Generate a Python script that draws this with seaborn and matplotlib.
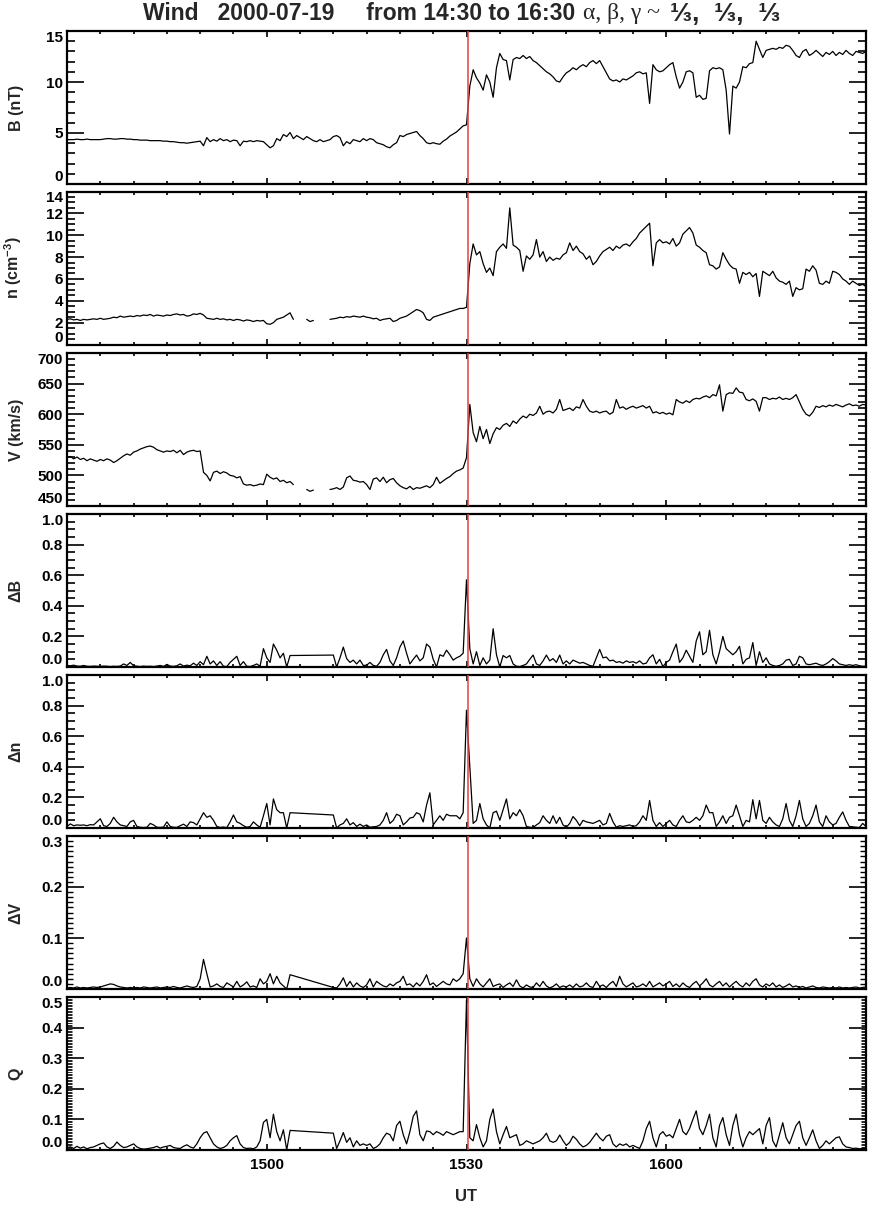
import numpy as np
import matplotlib
matplotlib.use("Agg")
import matplotlib.pyplot as plt
import seaborn as sns
from matplotlib.ticker import FixedLocator, MultipleLocator

nan = np.nan

# minutes after 14:30 UT, one sample every 30 s (14:30 -> 16:30)
minutes = np.arange(241) * 0.5
shock_minute = 60.2
tick_minutes = [30, 60, 90]
tick_labels = ["1500", "1530", "1600"]

# |B| (nT)
b_field = [
    4.35, 4.35, 4.35, 4.4, 4.35, 4.35, 4.4, 4.35, 4.35, 4.35,
    4.35, 4.4, 4.45, 4.45, 4.4, 4.4, 4.45, 4.45, 4.4, 4.4,
    4.35, 4.35, 4.3, 4.3, 4.3, 4.25, 4.25, 4.25, 4.25, 4.2,
    4.2, 4.15, 4.15, 4.1, 4.05, 4.05, 4.0, 4.05, 4.1, 4.15,
    4.2, 3.75, 4.55, 4.15, 4.35, 4.2, 4.45, 4.25, 4.35, 4.15,
    4.3, 4.25, 3.75, 4.2, 4.15, 4.25, 4.15, 4.25, 4.2, 4.15,
    3.85, 3.55, 3.75, 4.45, 4.25, 4.85, 4.65, 5.05, 4.45, 4.75,
    4.55, 4.35, 4.65, 4.45, 4.25, 4.15, 4.35, 4.15, 4.25, 4.35,
    4.65, 4.75, 4.55, 3.75, 4.15, 3.95, 4.35, 4.25, 4.15, 4.45,
    4.25, 4.45, 4.35, 4.05, 3.95, 3.85, 3.65, 3.55, 3.85, 4.05,
    4.75, 4.65, 4.85, 4.95, 5.05, 5.15, 4.75, 4.45, 4.05, 3.95,
    4.05, 3.95, 3.9, 4.2, 4.4, 4.7, 4.9, 5.1, 5.4, 5.7,
    5.8, 9.6, 11.2, 10.4, 9.9, 9.2, 10.7, 10.0, 8.5, 11.4,
    12.8, 12.2, 12.1, 10.2, 12.2, 12.4, 12.3, 12.6, 12.3, 12.5,
    12.1, 11.9, 11.6, 11.3, 11.0, 10.8, 10.5, 10.1, 10.0, 10.5,
    10.9, 11.1, 11.4, 11.2, 11.5, 11.7, 11.5, 11.9, 12.1, 11.8,
    12.1, 11.5, 10.9, 10.3, 10.1, 10.2, 10.0, 10.3, 10.2, 10.4,
    10.6, 10.9, 11.0, 10.8, 10.9, 7.9, 11.7, 11.2, 11.0, 11.1,
    11.4, 11.7, 11.9, 10.5, 9.4, 10.0, 11.0, 11.1, 10.9, 8.5,
    8.7, 8.3, 8.4, 11.1, 11.4, 11.3, 11.4, 11.2, 9.2, 4.9,
    9.6, 9.4, 10.0, 11.5, 11.4, 11.8, 11.9, 14.0, 13.2, 12.4,
    13.1, 13.2, 13.3, 13.2, 13.4, 13.3, 13.6, 13.5, 13.1, 12.6,
    12.4, 13.0, 13.2, 12.6, 12.8, 13.1, 12.8, 12.5, 12.9, 12.7,
    13.0, 12.6, 12.9, 12.7, 13.1, 12.8, 12.6, 13.0, 12.9, 12.8,
    13.0,
]

# proton density (cm^-3), nan = no data
density = [
    2.3, 2.35, 2.25, 2.3, 2.2, 2.3, 2.25, 2.3, 2.35, 2.3,
    2.4, 2.3, 2.35, 2.4, 2.5, 2.45, 2.6, 2.5, 2.55, 2.6,
    2.55, 2.65, 2.6, 2.7, 2.65, 2.75, 2.6, 2.7, 2.65, 2.6,
    2.7, 2.65, 2.75, 2.8, 2.7, 2.75, 2.6, 2.65, 2.8, 2.75,
    2.85, 2.7, 2.4, 2.35, 2.3, 2.4, 2.3, 2.35, 2.25, 2.3,
    2.2, 2.3, 2.25, 2.15, 2.25, 2.2, 2.1, 2.2, 2.15, 2.2,
    1.9, 1.85, 2.0, 2.3, 2.4, 2.5, 2.7, 2.9, 2.3, nan,
    nan, nan, 2.3, 2.1, 2.2, nan, nan, nan, nan, 2.3,
    2.35, 2.4, 2.5, 2.45, 2.55, 2.5, 2.6, 2.55, 2.5, 2.6,
    2.5, 2.45, 2.35, 2.4, 2.2, 2.3, 2.35, 2.4, 2.1, 2.2,
    2.4, 2.5, 2.6, 2.8, 3.0, 3.2, 3.1, 2.9, 2.3, 2.2,
    2.5, 2.6, 2.7, 2.8, 2.9, 3.0, 3.1, 3.2, 3.3, 3.3,
    3.4, 7.4, 9.2, 8.2, 8.5, 7.4, 6.6, 7.0, 6.3, 8.5,
    8.9, 9.2, 8.8, 12.5, 9.1, 8.9, 8.6, 6.7, 8.1, 7.8,
    8.2, 9.6, 8.0, 8.5, 7.6, 8.0, 7.7, 7.9, 7.8, 8.2,
    8.4, 9.3, 8.6, 9.0, 8.5, 8.3, 7.8, 8.1, 7.3, 7.6,
    8.1, 8.5, 8.7, 8.9, 8.6, 9.0, 8.8, 9.1, 9.2, 9.0,
    9.4, 9.7, 10.2, 10.5, 10.8, 11.1, 7.2, 9.3, 9.6, 9.3,
    9.4, 9.2, 9.7, 9.0, 9.3, 10.1, 10.4, 10.7, 10.2, 9.1,
    8.9, 8.6, 8.4, 7.3, 7.2, 6.9, 7.1, 8.4, 7.8, 7.3,
    7.0, 6.9, 5.6, 6.6, 6.4, 6.6, 6.2, 6.5, 4.4, 6.7,
    6.5, 6.3, 6.7, 6.1, 5.8, 5.7, 5.5, 5.8, 4.4, 5.2,
    5.0, 5.1, 6.9, 6.7, 7.2, 6.8, 5.6, 5.5, 5.8, 5.6,
    6.7, 6.6, 6.4, 6.0, 5.8, 5.5, 5.8, 5.6, 5.4, 5.5,
    5.3,
]

# bulk speed (km/s), nan = no data
speed = [
    529, 531, 527, 530, 526, 528, 524, 527, 525, 523,
    526, 524, 527, 525, 521, 524, 528, 532, 535, 533,
    538, 540, 543, 545, 547, 548, 546, 542, 540, 538,
    540, 539, 541, 537, 541, 534, 538, 540, 541, 539,
    540, 505, 500, 491, 505, 507, 503, 506, 504, 500,
    499, 496, 498, 486, 484, 485, 483, 484, 486, 485,
    502, 497, 494, 496, 490, 492, 488, 490, 485, nan,
    nan, nan, 477, 474, 476, nan, nan, nan, nan, 477,
    478, 480, 477, 481, 496, 499, 492, 491, 489, 490,
    485, 477, 494, 496, 490, 497, 488, 493, 495, 488,
    483, 480, 478, 482, 477, 480, 479, 481, 483, 480,
    485, 497, 487, 491, 495, 498, 503, 507, 509, 512,
    529, 616, 570, 555, 580, 560, 575, 552, 568, 578,
    575, 582, 585, 580, 589, 585, 592, 597, 594, 600,
    598, 602, 613, 600, 604, 605, 602, 608, 624, 606,
    608, 610, 606, 612, 610, 624, 613, 605, 603, 605,
    602, 604, 605, 600, 603, 624, 610, 612, 608, 611,
    613, 610, 612, 614, 610, 613, 602, 604, 601, 603,
    600, 602, 599, 624, 620, 618, 622, 619, 624, 626,
    625, 628, 630, 627, 632, 630, 648, 605, 632, 635,
    634, 643, 636, 635, 624, 622, 625, 621, 605, 627,
    627, 624, 626, 625, 628, 624, 626, 624, 627, 632,
    620, 608, 600, 597, 603, 613, 611, 614, 612, 615,
    613, 616, 614, 612, 615, 617, 614, 615, 613, 616,
    615,
]

# normalised jumps; nan = not computed (the curve is joined across)
delta_b = [
    0.01, 0.008, 0.012, 0.006, 0.005, 0.01, 0.005, 0.004, 0.006, 0.005,
    0.004, 0.006, 0.005, 0.003, 0.005, 0.004, 0.006, 0.02, 0.01, 0.03,
    0.008, 0.005, 0.003, 0.006, 0.004, 0.005, 0.003, 0.006, 0.01, 0.004,
    0.017, 0.006, 0.004, 0.008, 0.02, 0.006, 0.012, 0.008, 0.025, 0.01,
    0.035, 0.015, 0.07, 0.02, 0.04, 0.01, 0.035, 0.005, 0.003, 0.03,
    0.05, 0.07, 0.01, 0.035, 0.005, 0.003, 0.01, 0.02, 0.005, 0.12,
    0.06, 0.03, 0.15, 0.11, 0.06, 0.09, 0.0, 0.075, nan, nan,
    nan, nan, nan, nan, nan, nan, nan, nan, nan, nan,
    0.078, 0.0, 0.06, 0.13, 0.055, 0.03, 0.045, 0.02, 0.045, 0.01,
    0.012, 0.03, 0.01, 0.005, 0.03, 0.08, 0.115, 0.04, 0.01, 0.06,
    0.13, 0.17, 0.09, 0.02, 0.05, 0.078, 0.04, 0.06, 0.15, 0.13,
    0.05, 0.0, 0.08, 0.07, 0.11, 0.08, 0.045, 0.06, 0.07, 0.09,
    0.57, 0.12, 0.02, 0.1, 0.01, 0.06, 0.02, 0.045, 0.25, 0.08,
    0.0, 0.075, 0.06, 0.075, 0.02, 0.005, 0.003, 0.01, 0.02, 0.05,
    0.078, 0.02, 0.01, 0.04, 0.078, 0.04, 0.055, 0.03, 0.078, 0.02,
    0.04, 0.02, 0.045, 0.035, 0.025, 0.03, 0.02, 0.01, 0.005, 0.06,
    0.115, 0.06, 0.065, 0.04, 0.045, 0.03, 0.035, 0.025, 0.04, 0.03,
    0.035, 0.025, 0.04, 0.02, 0.025, 0.06, 0.08, 0.02, 0.05, 0.003,
    0.03, 0.045, 0.1, 0.15, 0.03, 0.06, 0.11, 0.07, 0.03, 0.17,
    0.23, 0.08, 0.1, 0.24, 0.08, 0.02, 0.1, 0.2, 0.12, 0.1,
    0.08, 0.1, 0.135, 0.02, 0.05, 0.06, 0.16, 0.01, 0.1, 0.03,
    0.06, 0.02, 0.01, 0.005, 0.01, 0.02, 0.045, 0.05, 0.01, 0.02,
    0.07, 0.06, 0.02, 0.015, 0.02, 0.025, 0.015, 0.01, 0.02, 0.035,
    0.055, 0.04, 0.02, 0.015, 0.01, 0.015, 0.01, 0.015, 0.008, 0.005,
    0.006,
]

delta_n = [
    0.01, 0.027, 0.015, 0.02, 0.018, 0.02, 0.015, 0.022, 0.02, 0.04,
    0.06, 0.015, 0.01, 0.03, 0.07, 0.04, 0.02, 0.015, 0.01, 0.04,
    0.05, 0.01, 0.005, 0.003, 0.005, 0.03, 0.02, 0.005, 0.004, 0.006,
    0.04, 0.01, 0.005, 0.004, 0.015, 0.025, 0.01, 0.04, 0.035, 0.02,
    0.06, 0.1, 0.07, 0.08, 0.05, 0.01, 0.004, 0.006, 0.003, 0.04,
    0.085, 0.04, 0.03, 0.015, 0.005, 0.01, 0.04, 0.02, 0.005, 0.08,
    0.16, 0.02, 0.19, 0.12, 0.1, 0.1, 0.0, 0.1, nan, nan,
    nan, nan, nan, nan, nan, nan, nan, nan, nan, nan,
    0.085, 0.0, 0.02, 0.03, 0.06, 0.02, 0.035, 0.01, 0.025, 0.01,
    0.02, 0.005, 0.008, 0.01, 0.02, 0.05, 0.1, 0.03, 0.05, 0.09,
    0.08, 0.02, 0.04, 0.065, 0.07, 0.1, 0.09, 0.04, 0.15, 0.23,
    0.02, 0.05, 0.08, 0.05, 0.09, 0.08, 0.08, 0.08, 0.06, 0.1,
    0.77, 0.4, 0.03, 0.05, 0.16, 0.06, 0.02, 0.0, 0.1, 0.11,
    0.05, 0.12, 0.19, 0.06, 0.1, 0.08, 0.12, 0.08, 0.01, 0.005,
    0.003, 0.02, 0.035, 0.08, 0.05, 0.03, 0.08, 0.03, 0.07, 0.02,
    0.005, 0.03, 0.075, 0.05, 0.015, 0.05, 0.04, 0.035, 0.03, 0.04,
    0.05, 0.02, 0.03, 0.095, 0.04, 0.005, 0.015, 0.01, 0.015, 0.02,
    0.01, 0.015, 0.04, 0.08, 0.05, 0.18, 0.05, 0.01, 0.035, 0.01,
    0.03, 0.05, 0.02, 0.01, 0.05, 0.08, 0.04, 0.035, 0.05, 0.07,
    0.05, 0.08, 0.15, 0.1, 0.1, 0.01, 0.04, 0.08, 0.03, 0.07,
    0.08, 0.15, 0.08, 0.01, 0.05, 0.04, 0.185, 0.06, 0.18, 0.05,
    0.03, 0.07, 0.04, 0.02, 0.01, 0.06, 0.16, 0.05, 0.01, 0.08,
    0.18, 0.06, 0.01, 0.03, 0.08, 0.15, 0.04, 0.01, 0.08, 0.04,
    0.02, 0.03, 0.07, 0.105, 0.05, 0.01, 0.008, 0.005, 0.003, 0.03,
    0.01,
]

delta_v = [
    0.002, 0.003, 0.002, 0.004, 0.002, 0.003, 0.002, 0.003, 0.004, 0.003,
    0.004, 0.006, 0.008, 0.01, 0.009, 0.006, 0.004, 0.003, 0.002, 0.003,
    0.002, 0.003, 0.002, 0.004, 0.003, 0.002, 0.003, 0.004, 0.002, 0.003,
    0.004, 0.003, 0.005, 0.003, 0.002, 0.004, 0.006, 0.004, 0.003, 0.005,
    0.02, 0.058, 0.03, 0.004, 0.006, 0.01, 0.005, 0.003, 0.012, 0.008,
    0.004, 0.015, 0.004, 0.008, 0.014, 0.004, 0.006, 0.003, 0.02, 0.01,
    0.015, 0.03, 0.01, 0.025, 0.012, 0.006, 0.0, 0.028, nan, nan,
    nan, nan, nan, nan, nan, nan, nan, nan, nan, nan,
    0.003, 0.002, 0.01, 0.022, 0.005, 0.015, 0.004, 0.012, 0.006, 0.003,
    0.008, 0.02, 0.004, 0.015, 0.01, 0.006, 0.004, 0.01, 0.006, 0.012,
    0.015, 0.025, 0.008, 0.01, 0.004, 0.012, 0.006, 0.015, 0.028, 0.008,
    0.012, 0.005, 0.01, 0.015, 0.01, 0.008, 0.02, 0.015, 0.02, 0.03,
    0.1, 0.02, 0.005, 0.02, 0.01, 0.004, 0.012, 0.02, 0.005, 0.008,
    0.01, 0.003, 0.008, 0.012, 0.005, 0.018, 0.006, 0.002, 0.008, 0.004,
    0.003, 0.012, 0.005, 0.015, 0.006, 0.002, 0.005, 0.01, 0.003, 0.006,
    0.004, 0.008, 0.003, 0.01, 0.004, 0.006, 0.012, 0.005, 0.003, 0.015,
    0.005, 0.008, 0.003, 0.01, 0.015, 0.005, 0.025, 0.01, 0.004, 0.008,
    0.012, 0.004, 0.006, 0.01, 0.005, 0.015, 0.004, 0.008, 0.012, 0.006,
    0.01, 0.015, 0.005, 0.01, 0.004, 0.012, 0.006, 0.003, 0.01, 0.015,
    0.006, 0.012, 0.02, 0.008, 0.004, 0.01, 0.015, 0.006, 0.012, 0.004,
    0.01, 0.015, 0.008, 0.004, 0.012, 0.006, 0.015, 0.02, 0.008, 0.004,
    0.01, 0.006, 0.012, 0.004, 0.008, 0.003, 0.006, 0.01, 0.004, 0.006,
    0.003, 0.005, 0.002, 0.004, 0.006, 0.003, 0.002, 0.004, 0.003, 0.002,
    0.003, 0.002, 0.004, 0.002, 0.003, 0.002, 0.003, 0.004, 0.002, 0.003,
    0.004,
]

q_value = [
    0.008, 0.01, 0.005, 0.012, 0.006, 0.01, 0.004, 0.008, 0.01, 0.015,
    0.02, 0.023, 0.01, 0.005, 0.012, 0.026, 0.015, 0.008, 0.01, 0.015,
    0.02, 0.01, 0.005, 0.003, 0.004, 0.006, 0.008, 0.012, 0.006, 0.01,
    0.012, 0.015, 0.008, 0.006, 0.005, 0.012, 0.017, 0.01, 0.006, 0.02,
    0.04, 0.055, 0.06, 0.04, 0.02, 0.01, 0.005, 0.008, 0.015, 0.03,
    0.04, 0.047, 0.02, 0.008, 0.005, 0.006, 0.004, 0.01, 0.03, 0.09,
    0.1, 0.04, 0.117, 0.06, 0.03, 0.066, 0.0, 0.064, nan, nan,
    nan, nan, nan, nan, nan, nan, nan, nan, nan, nan,
    0.055, 0.005, 0.03, 0.057, 0.025, 0.04, 0.01, 0.03, 0.015, 0.02,
    0.015, 0.02, 0.005, 0.01, 0.02, 0.04, 0.055, 0.05, 0.03, 0.08,
    0.094, 0.05, 0.02, 0.06, 0.11, 0.128, 0.05, 0.03, 0.062, 0.06,
    0.05, 0.06, 0.055, 0.048, 0.06, 0.055, 0.05, 0.055, 0.06, 0.06,
    0.49, 0.04, 0.03, 0.083, 0.04, 0.01, 0.03, 0.1, 0.134, 0.06,
    0.02, 0.05, 0.077, 0.04, 0.045, 0.05, 0.015, 0.02, 0.03, 0.025,
    0.02, 0.025, 0.03, 0.04, 0.055, 0.03, 0.025, 0.03, 0.049, 0.03,
    0.015, 0.025, 0.045, 0.035, 0.02, 0.01, 0.015, 0.025, 0.04, 0.055,
    0.04, 0.03, 0.045, 0.05, 0.02, 0.01, 0.02, 0.015, 0.02, 0.01,
    0.015, 0.01, 0.005, 0.03, 0.07, 0.094, 0.04, 0.01, 0.05, 0.06,
    0.045, 0.05, 0.04, 0.07, 0.1, 0.06, 0.05, 0.07, 0.1, 0.128,
    0.07, 0.05, 0.08, 0.117, 0.04, 0.01, 0.08, 0.106, 0.05, 0.015,
    0.08, 0.117, 0.05, 0.01, 0.04, 0.06, 0.05, 0.06, 0.07, 0.02,
    0.08, 0.106, 0.03, 0.01, 0.05, 0.089, 0.04, 0.02, 0.05, 0.08,
    0.094, 0.04, 0.015, 0.04, 0.066, 0.03, 0.005, 0.015, 0.03, 0.02,
    0.03, 0.04, 0.043, 0.02, 0.01, 0.008, 0.005, 0.006, 0.004, 0.005,
    0.006,
]

panels = [
    (b_field, "B (nT)", (0, 15), [0, 5, 10, 15], 1, "%d", False),
    (density, "n (cm$^{-3}$)", (0, 14), list(range(0, 15, 2)), 0.5, "%d", False),
    (speed, "V (km/s)", (450, 700), list(range(450, 701, 50)), 10, "%d", False),
    (delta_b, "ΔB", (0, 1), [0, 0.2, 0.4, 0.6, 0.8, 1.0], 0.05, "%.1f", True),
    (delta_n, "Δn", (0, 1), [0, 0.2, 0.4, 0.6, 0.8, 1.0], 0.05, "%.1f", True),
    (delta_v, "ΔV", (0, 0.3), [0, 0.1, 0.2, 0.3], 0.01, "%.1f", True),
    (q_value, "Q", (0, 0.5), [0, 0.1, 0.2, 0.3, 0.4, 0.5], 0.005, "%.1f", True),
]

sns.set_theme(style="ticks")
plt.rcParams["font.family"] = ["Liberation Sans", "DejaVu Sans"]
plt.rcParams["font.weight"] = "bold"
plt.rcParams["mathtext.fontset"] = "custom"
plt.rcParams["mathtext.rm"] = "Liberation Sans:bold"
plt.rcParams["mathtext.it"] = "Liberation Sans:bold"
plt.rcParams["mathtext.bf"] = "Liberation Sans:bold"


def runs(x, y):
    # contiguous stretches without missing values
    ok = np.r_[0, (~np.isnan(y)).astype(int), 0]
    edges = np.flatnonzero(np.diff(ok))
    for a, b in zip(edges[::2], edges[1::2]):
        yield x[a:b], y[a:b]


W, H = 869, 1205
fig = plt.figure(figsize=(W / 100, H / 100), dpi=100)
tops = [31, 191.5, 353, 514, 675, 836, 997]
panel_h = 153
left, right = 67, 866

axes = []
for i, (vals, label, ylim, yticks, minor, fmt, join) in enumerate(panels):
    ax = fig.add_axes([left / W, 1 - (tops[i] + panel_h) / H, (right - left) / W, panel_h / H])
    y = np.asarray(vals, dtype=float)
    if join:
        ok = ~np.isnan(y)
        sns.lineplot(x=minutes[ok], y=y[ok], ax=ax, color="black", linewidth=0.9,
                     estimator=None, sort=False)
    else:
        for xs, ys in runs(minutes, y):
            sns.lineplot(x=xs, y=ys, ax=ax, color="black", linewidth=0.9,
                         estimator=None, sort=False)
    ax.axvline(shock_minute, color="#e0443c", linewidth=1.1, zorder=5)

    ax.set_xlim(0, 120)
    ax.set_ylim(*ylim)
    ax.xaxis.set_major_locator(FixedLocator(tick_minutes))
    ax.xaxis.set_minor_locator(MultipleLocator(5))
    ax.yaxis.set_major_locator(FixedLocator(yticks))
    ax.yaxis.set_minor_locator(MultipleLocator(minor))
    ax.set_yticklabels([fmt % v for v in yticks])
    if i == len(panels) - 1:
        ax.set_xticklabels(tick_labels)
        ax.set_xlabel("UT", fontsize=12, fontweight="bold", labelpad=12)
    else:
        ax.set_xticklabels([])
        ax.set_xlabel("")
    ax.set_ylabel(label, fontsize=11.5, fontweight="bold")
    ax.yaxis.set_label_coords(-0.054, 0.5)

    ax.tick_params(which="both", direction="in", top=True, right=True,
                   labelsize=11, width=1.2, colors="black")
    ax.tick_params(axis="x", which="major", length=4.5, pad=6)
    ax.tick_params(axis="x", which="minor", length=2.5)
    ax.tick_params(axis="y", which="major", length=12, pad=3)
    if minor >= 0.05:
        ax.tick_params(axis="y", which="minor", length=6)
    elif minor >= 0.01:
        ax.tick_params(axis="y", which="minor", length=4.5, width=1.0)
    else:
        ax.tick_params(axis="y", which="minor", length=3.5, width=0.6)
    for sp in ax.spines.values():
        sp.set_linewidth(1.6)
        sp.set_color("black")
    for lab in ax.get_xticklabels() + ax.get_yticklabels():
        lab.set_fontweight("bold")
    axes.append(ax)

fig.canvas.draw()
for ax in axes:
    labs = ax.get_yticklabels()
    labs[0].set_verticalalignment("bottom")
    labs[-1].set_verticalalignment("top")

# title: sans part, greek part in a serif face, fractions
ty = 1 - 14 / H
fig.text(575 / W, ty, "Wind   2000-07-19     from 14:30 to 16:30",
         ha="right", va="center", fontsize=16.5, fontweight="bold")
fig.text(583 / W, ty, "α, β, γ ~", ha="left", va="center", fontsize=17,
         fontweight="normal", family=["Liberation Serif", "DejaVu Serif"])
fig.text(670 / W, ty, "⅓,  ⅓,  ⅓", ha="left", va="center", fontsize=19,
         fontweight="bold", family=["Liberation Sans", "DejaVu Sans"])

fig.savefig("out.png", dpi=100)
